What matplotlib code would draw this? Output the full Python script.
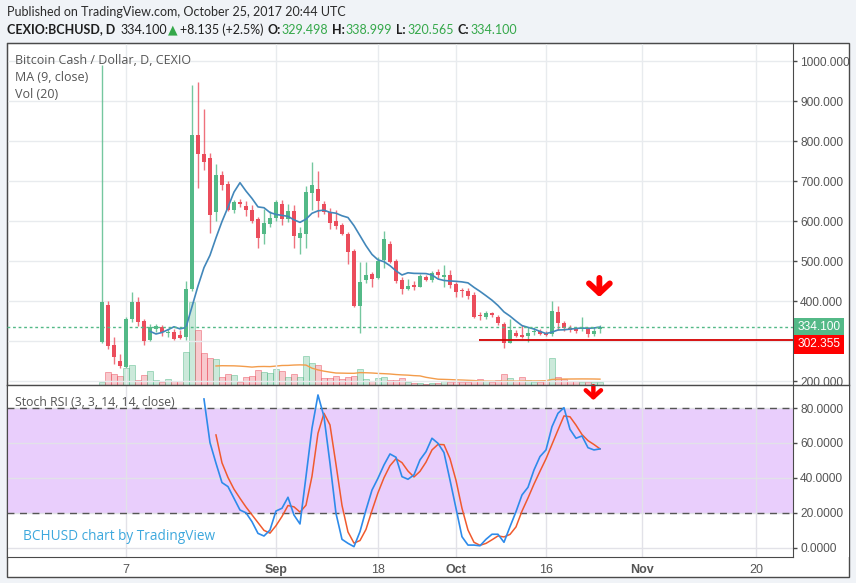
import numpy as np
import pandas as pd
import matplotlib
matplotlib.use("Agg")
import matplotlib.pyplot as plt
import matplotlib.transforms as mtransforms
from matplotlib.patches import Rectangle
from matplotlib.lines import Line2D

# ---- data (day number: 0 = 1 Aug 2017) ----
days = np.arange(2, 86)  # 3 Aug .. 25 Oct

opens = [298, 390, 290, 250, 236, 355, 398, 350, 302, 330, 336, 319, 323, 314, 310,
         430, 815, 767, 757, 623, 715, 692, 629, 647, 637, 629, 605, 567, 594, 608,
         644, 606, 626, 558, 567, 671, 680, 644, 623, 600, 590, 567, 525, 388, 452,
         467, 458, 504, 542, 501, 452, 429, 440, 436, 460, 452, 473, 461, 465, 442,
         426, 425, 415, 365, 359, 369, 361, 343, 296, 321, 315, 313, 322, 325, 321,
         317, 373, 346, 332, 329, 329, 332, 317, 329.498]
highs = [990, 400, 310, 268, 360, 423, 410, 355, 343, 342, 340, 330, 331, 328, 450,
         940, 947, 880, 770, 744, 725, 700, 652, 655, 651, 640, 611, 630, 625, 652,
         652, 644, 640, 586, 687, 748, 725, 650, 632, 627, 596, 573, 530, 498, 498,
         473, 510, 576, 550, 506, 459, 455, 450, 468, 465, 474, 480, 490, 477, 448,
         433, 432, 422, 372, 375, 372, 365, 348, 355, 328, 340, 335, 335, 330, 325,
         400, 387, 350, 340, 335, 360, 335, 335, 338.999]
lows = [296, 280, 243, 233, 233, 348, 338, 290, 300, 322, 312, 310, 303, 305, 303,
        425, 682, 727, 571, 601, 677, 625, 620, 635, 614, 595, 533, 543, 585, 600,
        590, 597, 533, 519, 533, 627, 611, 618, 580, 580, 566, 494, 385, 321, 445,
        436, 455, 483, 496, 446, 417, 427, 428, 434, 450, 447, 458, 436, 433, 410,
        410, 404, 358, 352, 356, 360, 340, 283, 294, 310, 307, 298, 315, 315, 312,
        313, 327, 324, 323, 320, 326, 311, 313, 320.565]
closes = [398, 288, 261, 238, 354, 398, 348, 301, 334, 337, 322, 323, 304, 307, 430,
          815, 767, 748, 615, 715, 690, 627, 647, 642, 627, 601, 557, 596, 607, 647,
          606, 625, 563, 571, 672, 690, 651, 623, 596, 588, 567, 523, 388, 447, 464,
          455, 500, 555, 498, 451, 430, 437, 434, 462, 452, 469, 465, 464, 440, 422,
          424, 412, 361, 362, 371, 364, 344, 296, 328, 313, 309, 321, 325, 317, 316,
          376, 344, 332, 328, 324, 332, 317, 325.965, 334.1]
volume = [3, 12.6, 11, 8.6, 16.6, 20, 5.3, 10.3, 14.3, 5.3, 2.6, 6, 3.6, 4.3, 33.3,
          83.3, 55.3, 32, 26.6, 26, 8.3, 11, 10, 2.6, 8.3, 9.3, 15.3, 12.6, 11.6, 16,
          14.3, 7.6, 11, 7.6, 29.3, 21.6, 20.3, 7, 7, 8.6, 6, 8.3, 9.3, 16, 6,
          4.3, 7, 7.6, 5, 5.3, 7, 2.6, 1.6, 2, 1, 2.3, 2, 3.6, 2.6, 3.3,
          2.6, 3, 4.3, 6, 4.3, 2.6, 5, 11, 6.6, 4.3, 7.6, 5, 2.6, 3.3, 4.3,
          26.6, 7.6, 6, 3.6, 4.3, 3.3, 2.6, 3.3, 3.3]

stoch_days = np.arange(19, 86)
stoch_k = [85.2, 60.2, 48.4, 37.3, 35, 28.3, 21.6, 20, 14.9, 8.2, 6.7, 10.1, 21, 22.6,
           28.9, 18.7, 13.6, 40.7, 68.4, 87.5, 75.1, 48.4, 19.7, 4.8, 2.5, 0.6, 9.2,
           21.6, 33, 39.8, 47.4, 53.7, 51.8, 40.7, 39.2, 41.7, 50.3, 55, 62.7, 59.8,
           54.5, 38.8, 22.6, 6.3, 1.5, 1.5, 1.1, 4.8, 7.7, 7.7, 3.1, 12, 20.6, 30.2,
           34.6, 44.5, 52.2, 56, 69.3, 77, 80.2, 67.8, 62.7, 64, 57.3, 56, 56.6]

tick_days = [6, 31, 48, 61, 76, 92, 111]
tick_labels = ["7", "Sep", "18", "Oct", "16", "Nov", "20"]

price_ticks = np.arange(200, 1001, 100)
hidden_price_tick = 300  # sits under the price tags

last_price = 334.1
support_level = 302.355
support_start = 64.8

opens, highs, lows, closes = map(np.array, (opens, highs, lows, closes))
volume = np.array(volume)

UP, DOWN = "#53B987", "#EB4D5C"
W, H = 856, 583
XLIM = (-13.88, 117.22)
GRID = "#E8EBEE"
AXC = "#4A4A4A"
TXT = "#555555"
SANS = ["Open Sans", "DejaVu Sans"]
HEAD = ["Lato", "DejaVu Sans"]
NUM = ["Liberation Sans", "DejaVu Sans"]


def fbox(l, t, r, b):
    return [l / W, 1 - b / H, (r - l) / W, (b - t) / H]


fig = plt.figure(figsize=(W / 100, H / 100), dpi=100, facecolor="#F0F3F7")
fig.add_artist(Rectangle((6.7 / W, 1 - 576.5 / H), (849 - 6.7) / W, (576.5 - 43) / H,
                         transform=fig.transFigure, fc="white", ec=AXC, lw=1, zorder=-1))

# ---- price panel ----
ax = fig.add_axes(fbox(6.7, 43, 793.3, 385))
vax = ax.twinx()
vax.set_zorder(0.5)
ax.set_zorder(1)
ax.patch.set_visible(False)
vax.set_axis_off()

up = closes >= opens
col = np.where(up, UP, DOWN)
ax.vlines(days, lows, highs, colors=col, lw=1, alpha=0.8, zorder=2)
ax.bar(days, np.maximum(np.abs(closes - opens), 3.5), bottom=np.minimum(opens, closes),
       width=0.78, color=col, lw=0, zorder=3)
ma9 = pd.Series(closes).rolling(9).mean()
ax.plot(days, ma9, color="#4287BA", lw=1.2, zorder=4)
ax.axhline(last_price, color=UP, ls=(0, (2, 2)), lw=1, zorder=4)
ax.hlines(support_level, support_start, XLIM[1], color="#D40000", lw=1.3, zorder=4)

vface = [(83/255, 185/255, 135/255, 0.3) if u else (235/255, 77/255, 92/255, 0.3) for u in up]
vedge = [(83/255, 185/255, 135/255, 0.55) if u else (235/255, 77/255, 92/255, 0.55) for u in up]
vax.bar(days, volume, width=0.85, color=vface, edgecolor=vedge, lw=0.6)
vax.plot(days, pd.Series(volume).rolling(20).mean(), color="#F39C4B", lw=1)
vax.set_ylim(0, volume.max() * 4.1)
vax.set_xlim(*XLIM)

ax.set_xlim(*XLIM)
ax.set_ylim(190, 1045.75)
ax.set_xticks(tick_days)
ax.set_yticks(price_ticks)
ax.set_yticklabels(["" if v == hidden_price_tick else f"{v:.3f}" for v in price_ticks])
ax.yaxis.tick_right()
ax.tick_params(axis="x", length=0, labelbottom=False)
ax.tick_params(axis="y", length=3, width=1, color=AXC, labelcolor=TXT, labelsize=8.6, pad=2)
for lb in ax.get_yticklabels():
    lb.set_family(NUM)
ax.grid(True, color=GRID, lw=1)
ax.set_axisbelow(True)
for s in ax.spines.values():
    s.set_color(AXC)

# price tags on the scale
tr = mtransforms.blended_transform_factory(ax.transAxes, ax.transData)
ax.text(1.0 + 4.5 / 786.6, last_price, f"{last_price:.3f}", transform=tr, color="white",
        fontsize=8.6, family=NUM, va="center", ha="left", clip_on=False, zorder=6,
        bbox=dict(boxstyle="square,pad=0.3", fc=UP, ec="none"))
tr2 = mtransforms.offset_copy(tr, fig=fig, y=-4, units="dots")
ax.text(1.0 + 4.5 / 786.6, support_level, f"{support_level:.3f}", transform=tr2, color="white",
        fontsize=8.6, family=NUM, va="center", ha="left", clip_on=False, zorder=6,
        bbox=dict(boxstyle="square,pad=0.3", fc="#FF0000", ec="none"))

ax.annotate("", xy=(84.9, 410), xytext=(84.9, 458),
            arrowprops=dict(arrowstyle="->,head_width=0.75,head_length=0.7", lw=4.2,
                            color="#FF0000", shrinkA=0, shrinkB=0, mutation_scale=10), zorder=6)

# ---- stoch RSI panel ----
fig.add_artist(Rectangle((794 / W, 1 - 557 / H), 54.5 / W, 171.5 / H, transform=fig.transFigure,
                         fc="white", ec="none", zorder=1.5))
sax = fig.add_axes(fbox(6.7, 385, 793.3, 557.3))
sax.set_zorder(2)
sax.set_xlim(*XLIM)
sax.set_ylim(-5.5, 93.2)
sax.axhspan(20, 80, color="#E9CEFC", lw=0, zorder=0.2)
sax.axhline(80, color="#555555", ls=(0, (5, 4)), lw=1, zorder=1)
sax.axhline(20, color="#555555", ls=(0, (5, 4)), lw=1, zorder=1)
sax.plot(stoch_days, stoch_k, color="#2E8BEA", lw=1.2, zorder=3)
stoch_d = pd.Series(stoch_k).rolling(3).mean()
sax.plot(stoch_days, stoch_d, color="#F05A2E", lw=1.1, zorder=2.5)
sax.annotate("", xy=(83.9, 84.5), xytext=(83.9, 92.5),
             arrowprops=dict(arrowstyle="->,head_width=0.55,head_length=0.5", lw=3.2,
                             color="#FF0000", shrinkA=0, shrinkB=0, mutation_scale=10), zorder=6)

sax.set_yticks([0, 20, 40, 60, 80])
sax.set_yticklabels([f"{v:.4f}" for v in [0, 20, 40, 60, 80]])
sax.yaxis.tick_right()
sax.tick_params(axis="y", length=3, width=1, color=AXC, labelcolor=TXT, labelsize=8.6, pad=2)
sax.set_xticks(tick_days)
sax.set_xticklabels(tick_labels)
sax.tick_params(axis="x", length=0, labelcolor=TXT, labelsize=9, pad=5)
for lb in sax.get_yticklabels():
    lb.set_family(NUM)
for lb in sax.get_xticklabels():
    lb.set_family(NUM)
    if not lb.get_text().isdigit():
        lb.set_fontweight("bold")
sax.grid(True, color="#E2E2E8", lw=1)
sax.set_axisbelow(True)
sax.spines["top"].set_visible(False)
for s in ("left", "right", "bottom"):
    sax.spines[s].set_color(AXC)

fig.add_artist(Line2D([6.7 / W, 849 / W], [1 - 385 / H, 1 - 385 / H], transform=fig.transFigure,
                      color=AXC, lw=1, zorder=3))

# ---- texts ----
def ftext(x, y, s, **kw):
    kw.setdefault("family", SANS)
    return fig.text(x / W, 1 - y / H, s, va="center", ha="left", **kw)


ftext(7, 12.5, "Published on TradingView.com, October 25, 2017 20:44 UTC", fontsize=9.0,
      color="#2B2B2B", family=HEAD)

renderer = fig.canvas.get_renderer()
green_txt = "#35A84A"
pieces = [("CEXIO:BCHUSD, D", "#1E1E1E", "bold", 5), ("334.100", "#1E1E1E", "normal", 1),
          ("\u25B2", green_txt, "normal", 2), ("+8.135 (+2.5%)", "#1E1E1E", "normal", 4),
          ("O:", "#1E1E1E", "bold", 1), ("329.498", green_txt, "normal", 4),
          ("H:", "#1E1E1E", "bold", 1), ("338.999", green_txt, "normal", 4),
          ("L:", "#1E1E1E", "bold", 1), ("320.565", green_txt, "normal", 4),
          ("C:", "#1E1E1E", "bold", 1), ("334.100", green_txt, "normal", 0)]
x = 7
for s, c, w, gap in pieces:
    t = ftext(x, 29.5, s, fontsize=9.0, color=c, fontweight=w, family=HEAD)
    x = t.get_window_extent(renderer=renderer).x1 + gap

ftext(15, 60.5, "Bitcoin Cash / Dollar, D, CEXIO", fontsize=9, color=TXT, zorder=7)
ftext(15, 77.5, "MA (9, close)", fontsize=9, color=TXT, zorder=7)
ftext(15, 94.5, "Vol (20)", fontsize=9, color=TXT, zorder=7)
ftext(15, 402.5, "Stoch RSI (3, 3, 14, 14, close)", fontsize=8.8, color=TXT, zorder=7)
ftext(23, 536.5, "BCHUSD chart by TradingView", fontsize=9.8, color="#3DA8DD", zorder=7)

fig.savefig("out.png", dpi=100, facecolor=fig.get_facecolor())
